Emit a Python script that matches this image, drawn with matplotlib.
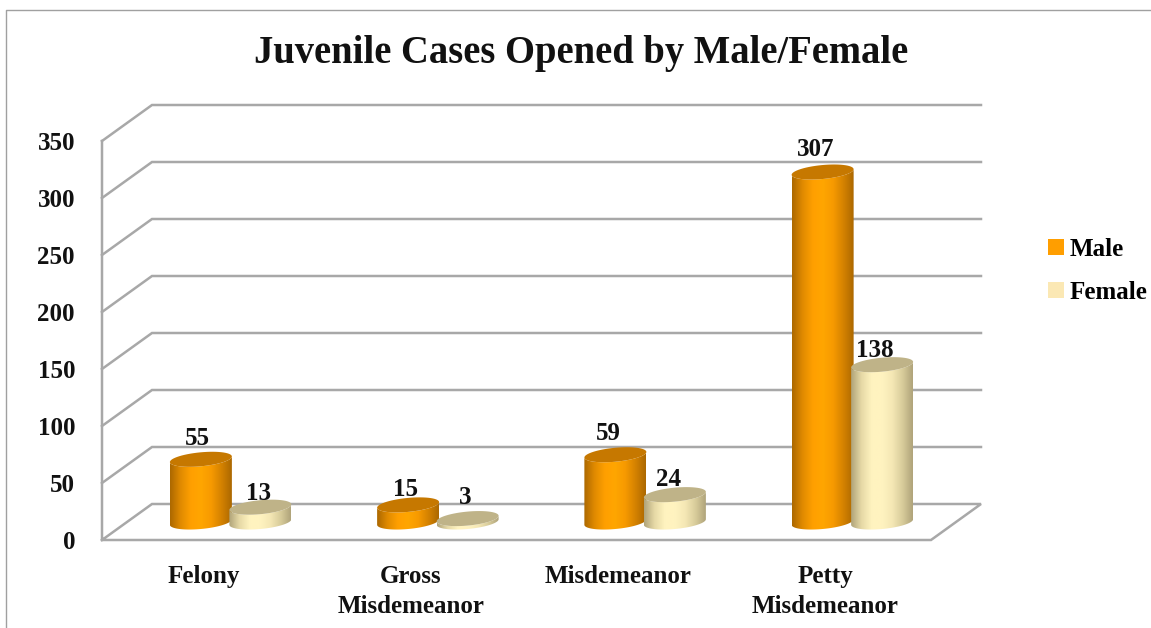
import numpy as np
import matplotlib
matplotlib.use("Agg")
import matplotlib.pyplot as plt
from matplotlib.colors import LinearSegmentedColormap
from matplotlib.lines import Line2D
from matplotlib.patches import Patch, Polygon

categories = ["Felony", "Gross\nMisdemeanor", "Misdemeanor", "Petty\nMisdemeanor"]
male = [55, 15, 59, 307]
female = [13, 3, 24, 138]
y_ticks = [0, 50, 100, 150, 200, 250, 300, 350]

W, H = 1151, 628
FS = 18
plt.rcParams["font.family"] = ["Liberation Serif", "DejaVu Serif"]
plt.rcParams["font.weight"] = "bold"
fig = plt.figure(figsize=(W / 100, H / 100), dpi=100, facecolor="white")
L, R, T, B = 102, 931, 141, 540
ax = fig.add_axes([L / W, 1 - B / H, (R - L) / W, (B - T) / H])
ax.set_xlim(-0.5, 3.5)
ax.set_ylim(0, 350)
ax.axis("off")

px_x = (R - L) / 4            # pixels per category
px_y = (B - T) / 350          # pixels per value unit
depth_x, depth_y = 50 / px_x, 36 / px_y
GRID = "#A8A8A8"
grid_kw = dict(color=GRID, lw=1.8, clip_on=False, zorder=1, solid_joinstyle="miter")

for v in y_ticks[1:]:
    ax.plot([-0.5, -0.5 + depth_x, 3.5 + depth_x], [v, v + depth_y, v + depth_y], **grid_kw)
ax.plot([-0.5, -0.5 + depth_x, 3.5 + depth_x, 3.5, -0.5, -0.5],
        [0, depth_y, depth_y, 0, 0, 350], **grid_kw)

# Tick and category labels
for v in y_ticks:
    ax.annotate(str(v), (-0.5, v), xytext=(-27, -2.5), textcoords="offset pixels",
                ha="right", va="center", fontsize=FS, color="#111111", annotation_clip=False)
for i, c in enumerate(categories):
    ax.annotate(c, (i, 0), xytext=(-2, -25), textcoords="offset pixels", ha="center", va="top",
                fontsize=FS, linespacing=1.4, color="#111111", annotation_clip=False)

orange = LinearSegmentedColormap.from_list("o", ["#AC6800", "#E08A00", "#FF9F00", "#FFA600", "#F79A00", "#D48200", "#AC6800"])
cream = LinearSegmentedColormap.from_list("c", ["#B0A47A", "#E6D9A6", "#FFF3BF", "#FFF3C0", "#F5E8B5", "#D8CC9B", "#B0A47A"])
grad = np.linspace(0, 1, 128).reshape(1, -1)

hw, hh, slope = 31 / px_x, 7.0 / px_y, 0.09


def ellipse(xc, yc, a, b):
    t = np.linspace(a, b, 60)
    return np.column_stack([xc + hw * np.cos(t),
                            yc + hh * np.sin(t) + slope * 31 / px_y * np.cos(t)])


def cylinder(xc, value, cmap, top_color, z):
    base = depth_y / 2
    top = base + value
    body = np.vstack([ellipse(xc, base, np.pi, 2 * np.pi), ellipse(xc, top, 2 * np.pi, np.pi)])
    clip = Polygon(body, closed=True, transform=ax.transData)
    im = ax.imshow(grad, cmap=cmap, aspect="auto", zorder=z, interpolation="bilinear",
                   extent=[xc - hw, xc + hw, base - 20, top + 20])
    im.set_clip_path(clip)
    ax.add_patch(Polygon(ellipse(xc, top, 0, 2 * np.pi), closed=True, fc=top_color,
                         ec="none", zorder=z + 0.1, clip_on=False))


offset = 29.75 / px_x
shift = depth_x / 2
label_lift_male = [21, 15, 21, 23]
label_lift_female = [14, 21, 15, 14]
label_nudge_male = [-3, -3, -7, -7]
label_nudge_female = [-2, -2, -6, -7]
for i in range(4):
    xm, xf = i + shift - offset, i + shift + offset
    cylinder(xm, male[i], orange, "#C67800", 3 + i)
    cylinder(xf, female[i], cream, "#BFB388", 3.5 + i)
    ax.annotate(str(male[i]), (xm, male[i] + depth_y / 2),
                xytext=(label_nudge_male[i], label_lift_male[i]),
                textcoords="offset pixels", ha="center", va="center", fontsize=FS,
                color="#111111", zorder=10, annotation_clip=False)
    ax.annotate(str(female[i]), (xf, female[i] + depth_y / 2),
                xytext=(label_nudge_female[i], label_lift_female[i]),
                textcoords="offset pixels", ha="center", va="center", fontsize=FS,
                color="#111111", zorder=10, annotation_clip=False)

ax.set_xlim(-0.5, 3.5)
ax.set_ylim(0, 350)

fig.text(581 / W, 1 - 54 / H, "Juvenile Cases Opened by Male/Female", ha="center", va="center",
         fontsize=27.8, color="#111111")

# Chart frame: left and top edges only
fig.add_artist(Line2D([6 / W, 6 / W, 1], [0, 1 - 10 / H, 1 - 10 / H], color="#A0A0A0", lw=1.0))

handles = [Patch(fc="#FF9E00", ec="none"), Patch(fc="#FBE8B4", ec="none")]
fig.legend(handles, ["Male", "Female"], loc="center left", bbox_to_anchor=(1043 / W, 1 - 271 / H),
           frameon=False, fontsize=FS, handlelength=0.64, handleheight=0.62,
           handletextpad=0.24, labelspacing=0.8, borderpad=0.2, borderaxespad=0)

fig.savefig("out.png", dpi=100, facecolor="white")
